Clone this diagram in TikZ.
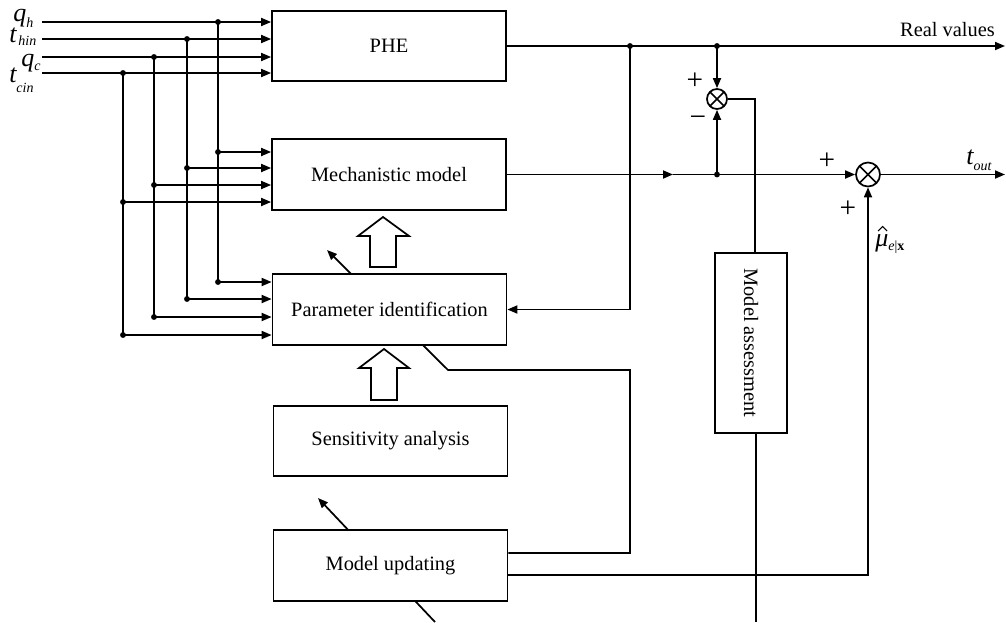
\documentclass[tikz,border=0pt]{standalone}
\usepackage{fontspec}
\setmainfont{Liberation Serif}
\usetikzlibrary{arrows.meta,calc}
\pgfdeclarelayer{bg}
\pgfsetlayers{bg,main}
\newcommand\subf{\fontsize{10.5}{12}\selectfont\itshape}
\begin{document}
\begin{tikzpicture}[x=0.75pt,y=-0.75pt,
  ln/.style={line width=1.3pt},
  arr/.style={line width=1.3pt,-{Triangle[length=7.5pt,width=6pt]}},
  box/.style={draw,fill=white,line width=1.3pt,minimum width=175.5pt,minimum height=53pt,inner sep=0pt,font=\fontsize{15.3}{18}\selectfont},
  dot/.style={circle,fill,inner sep=0pt,minimum size=4.4pt},
  sumc/.style={circle,draw,fill=white,line width=1.3pt,inner sep=0pt,
    path picture={\draw[line width=1.1pt] (path picture bounding box.north west)--(path picture bounding box.south east)
      (path picture bounding box.north east)--(path picture bounding box.south west);}},
  lab/.style={anchor=base west,inner sep=0pt,font=\fontsize{19.5}{22}\selectfont\itshape},
  pm/.style={inner sep=0pt,font=\fontsize{22}{24}\selectfont},
  hollow/.style={draw,fill=white,line width=1.3pt,line join=miter}
]
\useasboundingbox (0,0) rectangle (1006,622);

% blocks
\node[box] (phe) at (389,46) {PHE};
\node[box] (mech) at (389,174.5) {Mechanistic model};
\node[box] (par) at (389.5,309.5) {Parameter identification};
\node[box] (sens) at (390.5,441) {Sensitivity analysis};
\node[box] (upd) at (390.5,565.5) {Model updating};
\node[box,minimum width=135pt,minimum height=54pt,rotate=-90] (ass) at (751,343) {Model assessment};

% inputs
\foreach \i/\yi/\xt/\ym/\yp in {1/22/218/152/282,2/39/187/168/299,3/57/154/185/317,4/73/123/202/335}{
  \coordinate (in\i) at (42,\yi);
  \coordinate (ta\i) at (\xt,\yi);
  \coordinate (tm\i) at (\xt,\ym);
  \coordinate (tp\i) at (\xt,\yp);
  \draw[arr] (in\i) -- (in\i -| phe.west);
  \draw[ln] (ta\i) -- (tp\i);
  \draw[arr] (tm\i) -- (tm\i -| mech.west);
  \draw[arr] (tp\i) -- (tp\i -| par.west);
  \node[dot] (da\i) at (ta\i) {};
  \node[dot] (dm\i) at (tm\i) {};
  \node[dot] (dp\i) at (tp\i) {};
}

% input labels
\node[lab] (lqh) at (13,21) {q\lower5pt\hbox{\subf h}};
\node[lab] (lth) at (9,42) {t\kern1.5pt\lower2.5pt\hbox{\subf hin}};
\node[lab] (lqc) at (21,66) {q\lower3pt\hbox{\subf c}};
\node[lab] (ltc) at (9,82) {t\lower7.5pt\hbox{\subf cin}};

% hollow arrows
\draw[hollow] (370,267) -- (370,236) -- (358,236) -- (383,217) -- (409,236) -- (396,236) -- (396,267) -- cycle;
\draw[hollow] (371,400) -- (371,368) -- (359,368) -- (384,349) -- (409,368) -- (397,368) -- (397,400) -- cycle;

% real values path
\coordinate (j1) at (630,46);
\coordinate (j2) at (717,46);
\coordinate (rv) at (1005,46);
\draw[arr] (phe.east) -- (rv);
\node[anchor=base east,inner sep=0pt,font=\fontsize{15.3}{18}\selectfont] (lrv) at (995,36) {Real values};
\draw[arr] (j1) |- (par.east);
\node[dot] (dj1) at (j1) {};
\node[dot] (dj2) at (j2) {};

% first summing junction
\node[sumc,minimum size=15pt] (s1) at (717,99) {};
\draw[arr] (j2) -- (s1.north);
\coordinate (j3) at (717,174.5);
\draw[arr] (j3) -- (s1.south);
\node[dot] (dj3) at (j3) {};
\node[pm] (p1) at (695,81) {+};
\node[pm] (m1) at (698,121) {−};
\coordinate (aT) at ($(ass.west)+(4,0)$);
\coordinate (aB) at ($(ass.east)+(5,0)$);
\draw[ln] (s1.east) -| (aT);

% model output & second junction
\node[sumc,minimum size=18pt] (s2) at (868,174.5) {};
\coordinate (mid) at (673,174.5);
\draw[arr] (mech.east) -- (mid);
\draw[arr] (mid) -- (s2.west);
\coordinate (tout) at (1005,174.5);
\draw[arr] (s2.east) -- (tout);
\node[pm] (p2) at (827,161) {+};
\node[pm] (p3) at (848,209) {+};
\node[lab] (lto) at (966,164) {t\lower4.5pt\hbox{\subf out}};

% assessment bottom
\coordinate (aE) at (756,622);
\draw[ln] (aB) -- (aE);

% model updating to correction
\coordinate (u2) at ($(upd.east)+(0,9.5)$);
\draw[arr] (u2) -| (s2.south);
\node[lab] (lmu) at (875,246) {μ\lower3.5pt\hbox{\subf e\upshape|\bfseries x}};
\draw[line width=0.8pt] (878,231) -- (882.5,226.5) -- (887,231);

% adjustment arrows behind blocks
\begin{pgfonlayer}{bg}
\coordinate (u1) at ($(upd.east)+(0,-12.5)$);
\coordinate (c1) at (630,553);
\coordinate (c2) at (630,370);
\coordinate (c3) at (448,370);
\coordinate (c4) at (327,250);
\draw[arr] (u1) -- (c1) -- (c2) -- (c3) -- (c4);
\coordinate (e1) at (435,622);
\coordinate (e2) at (318,498);
\draw[arr] (e1) -- (e2);
\end{pgfonlayer}
\end{tikzpicture}
\end{document}
